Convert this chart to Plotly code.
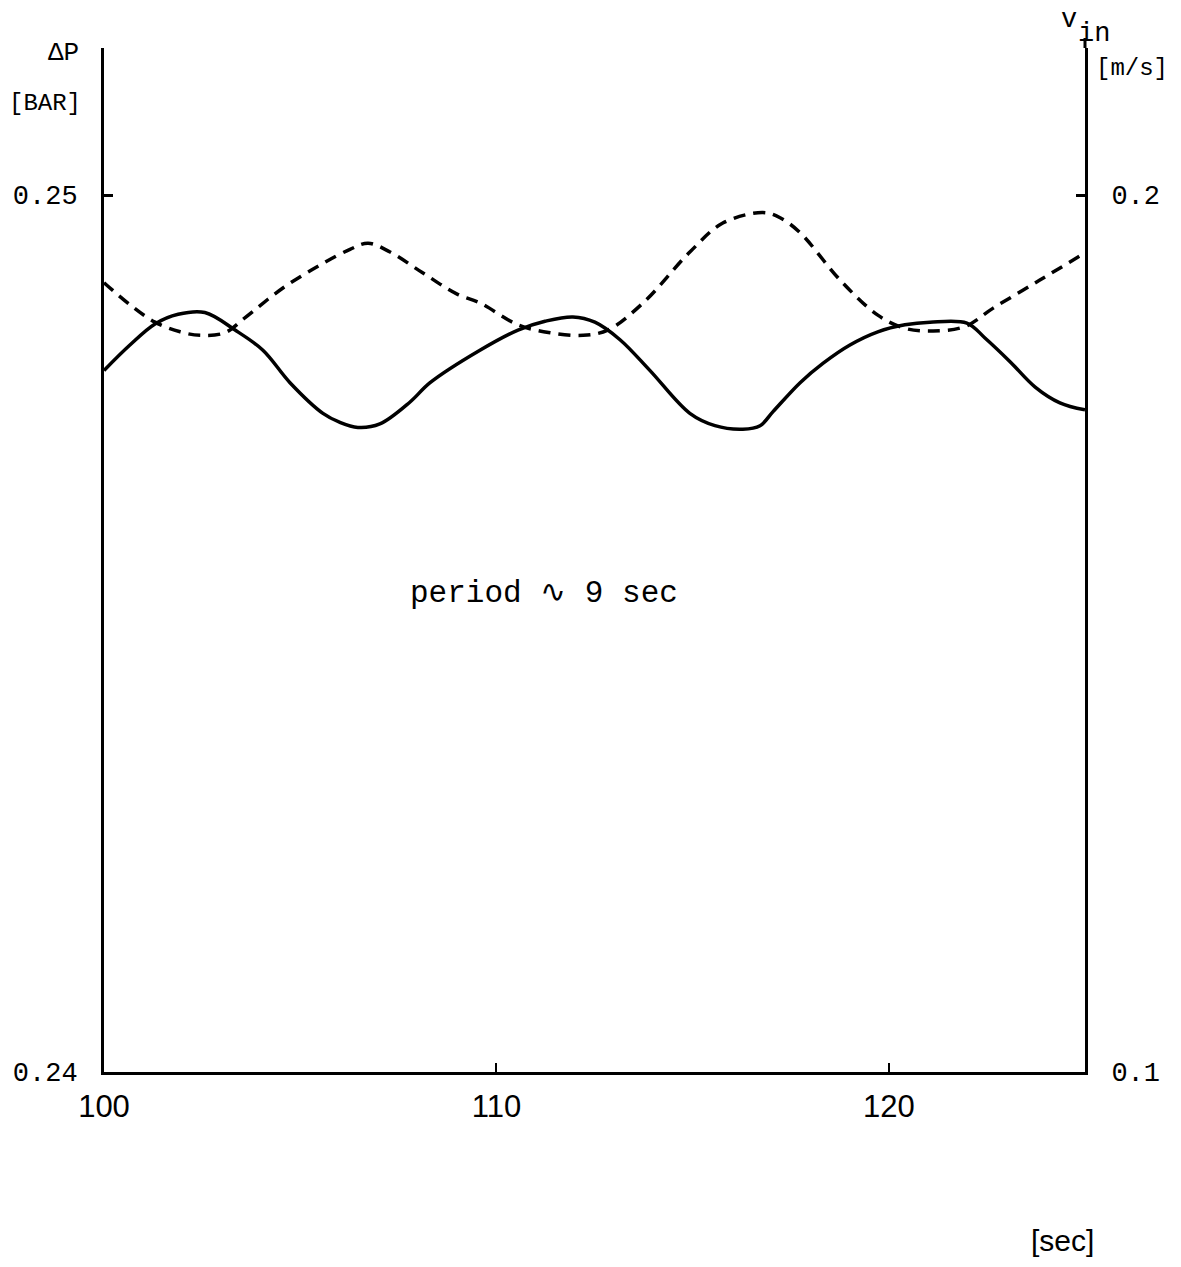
import plotly.graph_objects as go

# --- data ---
t_dp = [100.00, 100.66, 101.30, 101.89, 102.57, 103.34, 104.05, 104.74, 105.58, 106.00,
        106.47, 107.03, 107.80, 108.31, 109.58, 110.55, 111.24, 111.95, 112.51, 113.15,
        113.91, 114.93, 115.57, 116.28, 116.72, 117.05, 117.74, 118.32, 119.01, 119.72,
        120.41, 121.05, 121.99, 122.45, 123.09, 123.73, 124.36, 125.00]
dp = [0.24800, 0.24829, 0.24853, 0.24864, 0.24866, 0.24846, 0.24823, 0.24786, 0.24751, 0.24741,
      0.24735, 0.24739, 0.24764, 0.24786, 0.24823, 0.24846, 0.24856, 0.24861, 0.24855, 0.24835,
      0.24800, 0.24751, 0.24737, 0.24733, 0.24737, 0.24753, 0.24786, 0.24808, 0.24829, 0.24844,
      0.24852, 0.24855, 0.24854, 0.24837, 0.24810, 0.24781, 0.24763, 0.24755]

t_v = [100.00, 100.66, 101.30, 101.94, 102.45, 103.08, 103.59, 104.56, 105.50, 106.27,
       106.73, 107.29, 108.13, 109.00, 109.58, 110.55, 111.37, 112.21, 112.84, 113.74,
       114.93, 115.77, 116.79, 117.23, 117.74, 118.76, 119.72, 120.41, 121.13, 121.94,
       122.66, 123.85, 125.00]
v_in = [0.1900, 0.1875, 0.1855, 0.1844, 0.1840, 0.1843, 0.1860, 0.1894, 0.1920, 0.1938,
        0.1945, 0.1935, 0.1911, 0.1887, 0.1877, 0.1852, 0.1843, 0.1840, 0.1846, 0.1877,
        0.1935, 0.1968, 0.1980, 0.1974, 0.1957, 0.1903, 0.1863, 0.1848, 0.1845, 0.1850,
        0.1871, 0.1903, 0.1934]

x_tickvals = [100, 110, 120]
x_ticktext = ["100", "110", "120"]
dp_tickvals = [0.24, 0.25]
dp_ticktext = ["0.24", "0.25"]
v_tickvals = [0.1, 0.2]
v_ticktext = ["0.1", "0.2"]

W, H = 1181, 1267
L, R, T, B = 104, 96, 48, 195
plot_h = H - T - B
px_per_unit = 877.0  # pixels between the two labelled ticks
dp_top = 0.24 + plot_h / px_per_unit * 0.01
v_top = 0.1 + plot_h / px_per_unit * 0.1

MONO = "Liberation Mono, DejaVu Sans Mono, monospace"
SANS = "Liberation Sans, DejaVu Sans, sans-serif"

fig = go.Figure()
fig.add_trace(go.Scatter(x=t_dp, y=dp, mode="lines", yaxis="y",
                         line=dict(color="black", width=3.5, shape="spline", smoothing=1.0),
                         showlegend=False, hoverinfo="skip"))
fig.add_trace(go.Scatter(x=t_v, y=v_in, mode="lines", yaxis="y2",
                         line=dict(color="black", width=3.5, dash="12px,8px",
                                   shape="spline", smoothing=1.0),
                         showlegend=False, hoverinfo="skip"))

def px2x(px):
    return (px - L) / (W - L - R)

def py2y(py):
    return (H - B - py) / plot_h

annots = [
    dict(text="ΔP", x=px2x(63), y=py2y(53), font=dict(family=MONO, size=26)),
    dict(text="[BAR]", x=px2x(45), y=py2y(103), font=dict(family=MONO, size=24)),
    dict(text="v", x=px2x(1069), y=py2y(20), font=dict(family=MONO, size=27)),
    dict(text="in", x=px2x(1094), y=py2y(34), font=dict(family=MONO, size=27)),
    dict(text="[m/s]", x=px2x(1132), y=py2y(68), font=dict(family=MONO, size=24)),
    dict(text="[sec]", x=px2x(1062), y=py2y(1240), font=dict(family=SANS, size=30)),
    dict(text="period ∿ 9 sec", x=px2x(544), y=py2y(593), font=dict(family=MONO, size=31)),
]
for a in annots:
    a.update(xref="paper", yref="paper", showarrow=False, xanchor="center", yanchor="middle")
    a["font"]["color"] = "black"

fig.update_layout(
    width=W, height=H,
    margin=dict(l=L, r=R, t=T, b=B, pad=0),
    paper_bgcolor="white", plot_bgcolor="white",
    xaxis=dict(range=[100, 125], tickvals=x_tickvals, ticktext=x_ticktext,
               ticks="inside", ticklen=9, tickwidth=2, tickcolor="black",
               showline=True, linewidth=3, linecolor="black", showgrid=False,
               zeroline=False, ticklabelstandoff=5,
               tickfont=dict(family=SANS, size=31, color="black")),
    yaxis=dict(range=[0.24, dp_top], tickvals=dp_tickvals, ticktext=dp_ticktext,
               ticks="inside", ticklen=9, tickwidth=3, tickcolor="black",
               showline=True, linewidth=3, linecolor="black", showgrid=False,
               zeroline=False, ticklabelstandoff=18,
               tickfont=dict(family=MONO, size=27, color="black")),
    yaxis2=dict(range=[0.1, v_top], tickvals=v_tickvals, ticktext=v_ticktext,
                overlaying="y", side="right", anchor="x",
                ticks="inside", ticklen=9, tickwidth=3, tickcolor="black",
                showline=True, linewidth=3, linecolor="black", showgrid=False,
                zeroline=False, ticklabelstandoff=18,
                tickfont=dict(family=MONO, size=27, color="black")),
    annotations=annots,
    shapes=[dict(type="line", xref="paper", yref="paper", x0=1, x1=1,
                 y0=1, y1=py2y(38), line=dict(color="black", width=3))],
)

fig.write_html("out.html")
